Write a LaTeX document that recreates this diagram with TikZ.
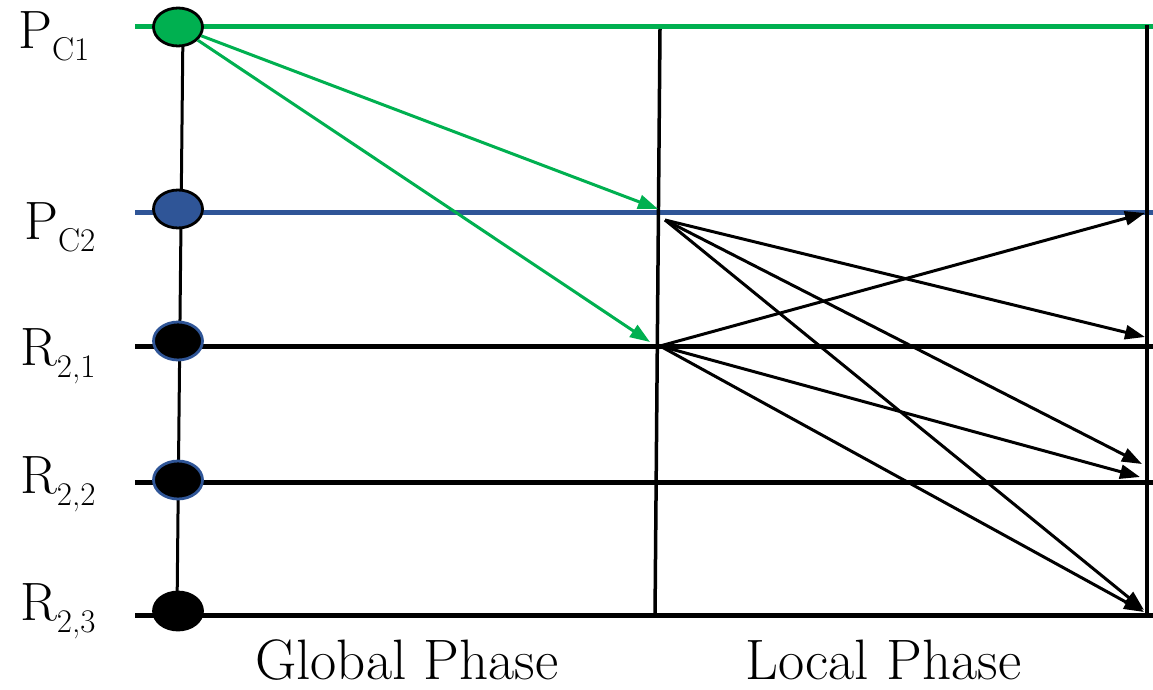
\documentclass[tikz,border=0pt]{standalone}
\usepackage{fontspec}
\setmainfont{Latin Modern Roman}
\usetikzlibrary{arrows.meta,shapes.geometric}
\definecolor{pgreen}{HTML}{00B050}
\definecolor{pblue}{HTML}{2F5597}
\newcommand\mylab[2]{\fontsize{54}{54}\selectfont #1\raisebox{-12pt}{\fontsize{33}{33}\selectfont #2}}
\begin{document}
\begin{tikzpicture}[x=1pt,y=-1pt,
  hline/.style={line width=5pt},
  vline/.style={line width=3.5pt},
  garrow/.style={pgreen,line width=3pt,-{Triangle[length=20pt,width=14pt]}},
  barrow/.style={black,line width=3pt,-{Triangle[length=20pt,width=14pt]}},
  dot/.style={ellipse,minimum width=49pt,minimum height=38pt,inner sep=0pt,line width=2.8pt},
  lab/.style={anchor=base west,inner sep=0pt},
  phase/.style={anchor=base west,inner sep=0pt,font=\fontsize{57}{57}\selectfont}]
\useasboundingbox (0,0) rectangle (1153,690);
% line ends
\coordinate (a1) at (135,27);  \coordinate (b1) at (1153,27);
\coordinate (a2) at (135,212); \coordinate (b2) at (1153,212);
\coordinate (a3) at (135,346); \coordinate (b3) at (1153,346);
\coordinate (a4) at (135,482); \coordinate (b4) at (1153,482);
\coordinate (a5) at (135,615); \coordinate (b5) at (1153,615);
% vertical phase lines
\coordinate (m1) at (660,29); \coordinate (m2) at (655,617);
\coordinate (r1) at (1147,25); \coordinate (r2) at (1147,617);
% left spine
\coordinate (l1) at (183,27); \coordinate (l2) at (177,611);
% horizontal lines
\draw[hline,pgreen] (a1) -- (b1);
\draw[hline,pblue] (a2) -- (b2);
\draw[hline] (a3) -- (b3);
\draw[hline] (a4) -- (b4);
\draw[hline] (a5) -- (b5);
\draw[vline] (m1) -- (m2);
\draw[vline] (r1) -- (r2);
\draw[line width=3pt] (l1) -- (l2);
% ellipses
\node[dot,draw=black,fill=pgreen] (pc1) at (178,27) {};
\node[dot,draw=black,fill=pblue] (pc2) at (178,209) {};
\node[dot,draw=pblue,fill=black] (r21) at (178,341) {};
\node[dot,draw=pblue,fill=black] (r22) at (178,480) {};
\node[dot,draw=black,fill=black] (r23) at (178,611) {};
% labels
\node[lab] (lpc1) at (18,49) {\mylab{P}{C1}};
\node[lab] (lpc2) at (24,239) {\mylab{P}{C2}};
\node[lab] (lr21) at (20,365) {\mylab{R}{2,1}};
\node[lab] (lr22) at (20,493) {\mylab{R}{2,2}};
\node[lab] (lr23) at (20,620) {\mylab{R}{2,3}};
\node[phase] (gp) at (255,679) {Global Phase};
\node[phase] (lp) at (745,679) {Local Phase};
% green arrows
\coordinate (g1) at (658,209);
\coordinate (g2) at (650,342);
\draw[garrow] (pc1) -- (g1);
\draw[garrow] (pc1) -- (g2);
% black arrows
\coordinate (s2) at (665,220);
\coordinate (s1) at (660,346);
\coordinate (t2) at (1145,213);
\coordinate (t3) at (1145,337);
\coordinate (t4a) at (1142,464);
\coordinate (t4b) at (1140,477);
\coordinate (t5a) at (1144,610);
\coordinate (t5b) at (1144,612);
\draw[barrow] (s2) -- (t3);
\draw[barrow] (s2) -- (t4a);
\draw[barrow] (s2) -- (t5a);
\draw[barrow] (s1) -- (t2);
\draw[barrow] (s1) -- (t4b);
\draw[barrow] (s1) -- (t5b);
\end{tikzpicture}
\end{document}
